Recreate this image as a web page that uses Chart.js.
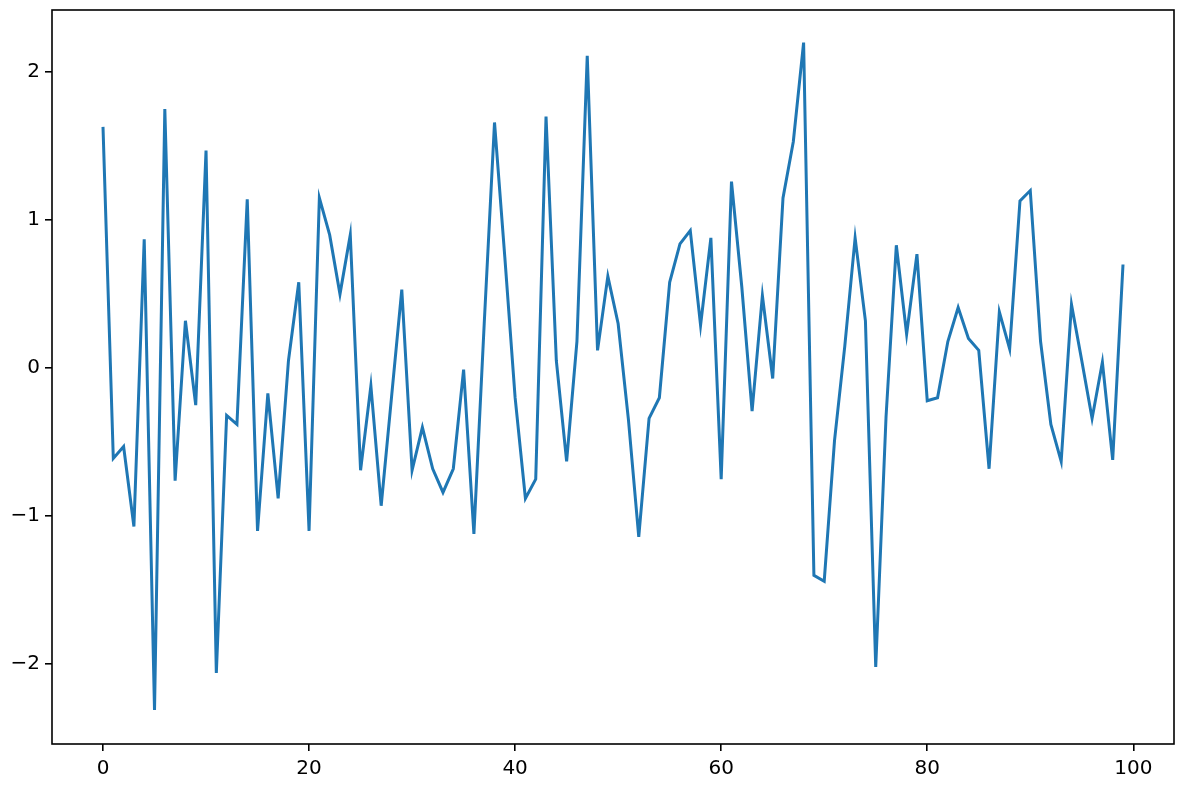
<!DOCTYPE html>
<html lang="en">
<head>
  <meta charset="UTF-8">
  <title>Line plot</title>
  <script src="https://cdn.jsdelivr.net/npm/chart.js"></script>
  <style>
    body { margin: 0; background: #fff; }
  </style>
</head>
<body>
  <canvas id="lineChart" width="1190" height="797"></canvas>
  <script>
    // values, index 0..99
    const yValues = [
      1.63, -0.61, -0.53, -1.07, 0.87, -2.31, 1.75, -0.76, 0.32, -0.25,
      1.47, -2.06, -0.32, -0.38, 1.14, -1.10, -0.17, -0.88, 0.05, 0.58,
      -1.10, 1.15, 0.90, 0.50, 0.90, -0.69, -0.12, -0.93, -0.20, 0.53,
      -0.69, -0.40, -0.68, -0.84, -0.68, -0.01, -1.12, 0.30, 1.66, 0.75,
      -0.20, -0.88, -0.75, 1.70, 0.05, -0.63, 0.18, 2.11, 0.12, 0.62,
      0.30, -0.35, -1.14, -0.34, -0.20, 0.58, 0.84, 0.93, 0.29, 0.88,
      -0.75, 1.26, 0.55, -0.29, 0.49, -0.07, 1.15, 1.53, 2.20, -1.40,
      -1.44, -0.49, 0.15, 0.88, 0.32, -2.02, -0.33, 0.83, 0.23, 0.77,
      -0.22, -0.20, 0.18, 0.41, 0.20, 0.12, -0.68, 0.38, 0.13, 1.13,
      1.20, 0.18, -0.38, -0.63, 0.43, 0.05, -0.34, 0.04, -0.62, 0.70
    ];
    const xValues = yValues.map((_, i) => i);
    const xTicks = [0, 20, 40, 60, 80, 100];
    const yTicks = [-2, -1, 0, 1, 2];

    const points = xValues.map((x, i) => ({ x: x, y: yValues[i] }));

    const fmt = v => (v < 0 ? '\u2212' + Math.abs(v) : String(v));

    // matplotlib style frame round the plot area
    const frame = {
      id: 'frame',
      afterDatasetsDraw(chart) {
        const a = chart.chartArea;
        const ctx = chart.ctx;
        ctx.save();
        ctx.strokeStyle = '#000';
        ctx.lineWidth = 1.6;
        ctx.strokeRect(a.left, a.top, a.right - a.left, a.bottom - a.top);
        ctx.restore();
      }
    };

    const tickFont = { family: 'DejaVu Sans', size: 20 };

    new Chart(document.getElementById('lineChart').getContext('2d'), {
      type: 'line',
      data: {
        datasets: [{
          data: points,
          borderColor: '#1f77b4',
          borderWidth: 3,
          pointRadius: 0,
          tension: 0,
          fill: false
        }]
      },
      options: {
        responsive: false,
        animation: false,
        layout: { padding: { top: 10, right: 16, left: 0, bottom: 0 } },
        plugins: { legend: { display: false }, tooltip: { enabled: false } },
        scales: {
          x: {
            type: 'linear',
            min: -4.95,
            max: 103.95,
            afterBuildTicks: s => { s.ticks = xTicks.map(v => ({ value: v })); },
            afterFit: s => { s.height = 53; s.paddingLeft = 0; s.paddingRight = 0; },
            grid: { drawOnChartArea: false, drawTicks: true, tickLength: 7, color: '#000', lineWidth: 1.6 },
            border: { display: false },
            ticks: { font: tickFont, color: '#000', padding: 6, maxRotation: 0, callback: fmt }
          },
          y: {
            type: 'linear',
            min: -2.54,
            max: 2.42,
            afterBuildTicks: s => { s.ticks = yTicks.map(v => ({ value: v })); },
            afterFit: s => { s.width = 52; s.paddingTop = 0; s.paddingBottom = 0; },
            grid: { drawOnChartArea: false, drawTicks: true, tickLength: 7, color: '#000', lineWidth: 1.6 },
            border: { display: false },
            ticks: { font: tickFont, color: '#000', padding: 5, callback: fmt }
          }
        }
      },
      plugins: [frame]
    });
  </script>
</body>
</html>
